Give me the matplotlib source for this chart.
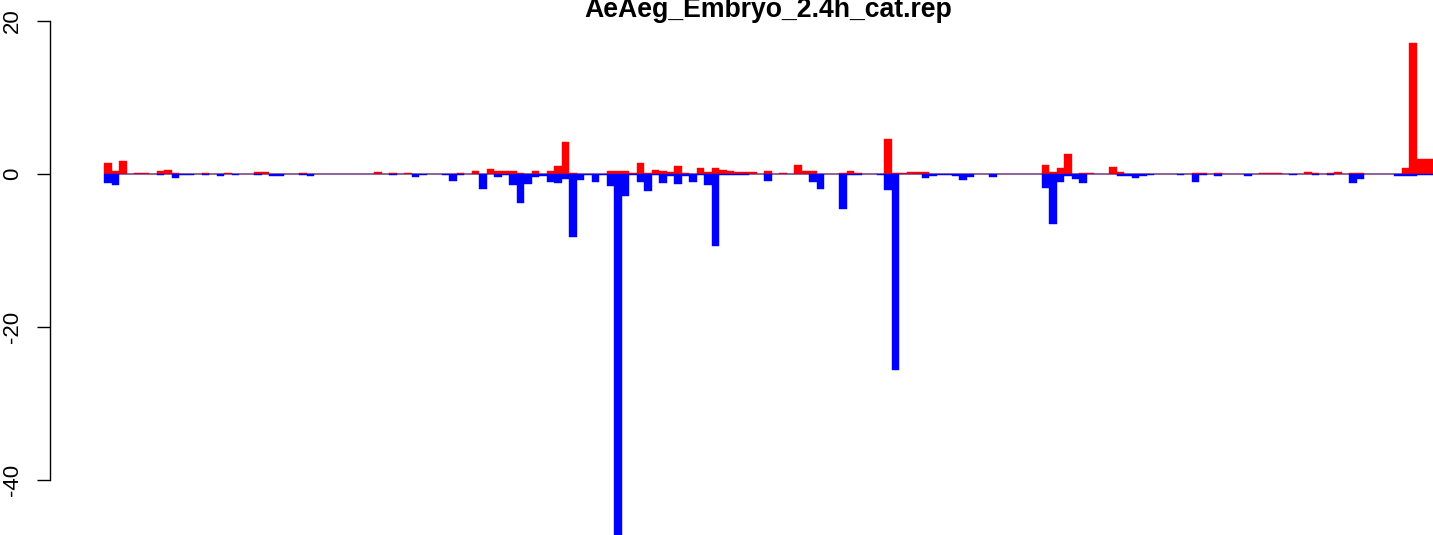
import numpy as np
import matplotlib
matplotlib.use("Agg")
import matplotlib.pyplot as plt
from matplotlib.transforms import blended_transform_factory

plt.rcParams['font.family'] = ['Liberation Sans', 'DejaVu Sans']

title = "AeAeg_Embryo_2.4h_cat.rep"

# positive (red) values per position
up_values = [
    1.44, 0.39, 1.70, 0, 0.1, 0.1, 0, 0.39, 0.52, 0.13,
    0, 0, 0, 0.13, 0, 0, 0.1, 0, 0, 0,
    0.25, 0.25, 0, 0, 0, 0, 0.13, 0, 0, 0,
    0, 0, 0, 0, 0, 0, 0.26, 0, 0.13, 0,
    0.1, 0, 0, 0, 0, 0, 0, 0.13, 0, 0.39,
    0, 0.65, 0.39, 0.39, 0.39, 0.13, 0, 0.39, 0, 0.39,
    1.05, 4.18, 0.13, 0, 0, 0, 0, 0.42, 0.42, 0.42,
    0.08, 1.46, 0.08, 0.55, 0.42, 0.28, 1.07, 0.1, 0, 0.8,
    0.28, 0.8, 0.55, 0.42, 0.28, 0.28, 0.28, 0, 0.39, 0,
    0.13, 0, 1.18, 0.39, 0.39, 0, 0, 0, 0.13, 0.39,
    0.13, 0, 0, 0, 4.58, 0.13, 0.13, 0.26, 0.26, 0.26,
    0, 0, 0, 0, 0, 0, 0, 0, 0, 0,
    0, 0, 0, 0, 0, 1.18, 0.26, 0.78, 2.61, 0,
    0.13, 0.13, 0, 0, 0.96, 0.3, 0, 0, 0, 0,
    0, 0, 0, 0, 0, 0.1, 0.1, 0, 0.1, 0,
    0, 0, 0, 0, 0.1, 0.1, 0.1, 0, 0, 0,
    0.26, 0.1, 0, 0.1, 0.26, 0, 0.1, 0.1, 0, 0,
    0, 0, 0, 0.78, 17.1, 1.96, 1.96, 1.96,
]

# negative (blue) values per position
down_values = [
    -1.18, -1.39, 0, 0, 0, 0, 0, -0.1, 0, -0.48,
    -0.17, -0.1, 0, -0.1, 0, -0.22, 0, -0.1, 0, 0,
    -0.1, 0, -0.2, -0.2, 0, 0, -0.1, -0.2, 0, 0,
    0, 0, 0, 0, 0, 0, 0, 0, -0.1, 0,
    0, -0.35, -0.1, 0, 0, -0.08, -0.87, -0.08, -0.05, -0.05,
    -1.92, -0.05, -0.35, -0.1, -1.39, -3.75, -1.26, -0.45, -0.26, -1.05,
    -1.13, -0.6, -8.3, -0.74, -0.1, -1.0, -0.1, -1.52, -50.0, -2.83,
    -0.1, -1.0, -2.18, -0.1, -1.13, -0.3, -1.26, -0.3, -1.0, -0.1,
    -1.39, -9.37, -0.1, -0.1, -0.1, -0.1, 0, 0, -0.87, 0,
    0, 0, 0, 0, -1.05, -1.92, 0, 0, -4.53, -0.1,
    -0.1, 0, 0, -0.08, -2.05, -25.6, 0, 0, 0, -0.48,
    -0.22, -0.1, -0.1, -0.2, -0.74, -0.35, 0, 0, -0.35, 0,
    0, 0, 0, 0, 0, -1.79, -6.5, -1.0, -0.22, -0.6,
    -1.13, 0, 0, 0, 0, -0.22, -0.22, -0.48, -0.22, -0.1,
    0, 0, 0, -0.1, 0, -1.0, -0.1, 0, -0.2, 0,
    0, 0, -0.22, 0, 0, 0, 0, 0, -0.1, 0,
    0, -0.1, 0, -0.13, 0, 0, -1.13, -0.6, 0, 0,
    0, 0, -0.22, -0.22, -0.2, -0.1, -0.1, -0.1,
]

y_ticks = [-40, -20, 0, 20]
n_total = 180

W, H = 1433, 535
fig = plt.figure(figsize=(W / 100, H / 100), dpi=100)
# axes spans pixel 50 .. 1508 horizontally (right part cropped), full height
ax = fig.add_axes([50 / W, 0, 1458 / W, 1])
ax.set_xlim(-0.04 * n_total, 1.04 * n_total)
ax.set_ylim(-(535 - 174) / 7.65, 174 / 7.65)

x = np.arange(len(up_values))
ax.hlines(0, 0, n_total, colors='#A5A5A5', linewidth=1.5, zorder=1)
ax.bar(x, up_values, width=1, align='edge', color='#FF0000',
       edgecolor='#FF0000', linewidth=0.3, zorder=2)
ax.bar(x, down_values, width=1, align='edge', color='#0000FF',
       edgecolor='#0000FF', linewidth=0.3, zorder=2)

for s in ['top', 'right', 'bottom']:
    ax.spines[s].set_visible(False)
ax.spines['left'].set_bounds(-40, 20)
ax.spines['left'].set_linewidth(1.0)
ax.set_xticks([])
ax.set_yticks(y_ticks)
ax.tick_params(axis='y', length=9.4, width=1.0, direction='out', labelleft=False)

tr = blended_transform_factory(fig.transFigure, ax.transData)
for t in y_ticks:
    ax.text(12.5 / W, t, str(t), transform=tr, rotation=90, ha='center',
            va='center', fontsize=16, clip_on=False)

fig.text(768 / W, 1 - 16.7 / H, title, ha='center', va='baseline',
         fontsize=19.2, fontweight='bold')

fig.savefig("out.png", dpi=100)
